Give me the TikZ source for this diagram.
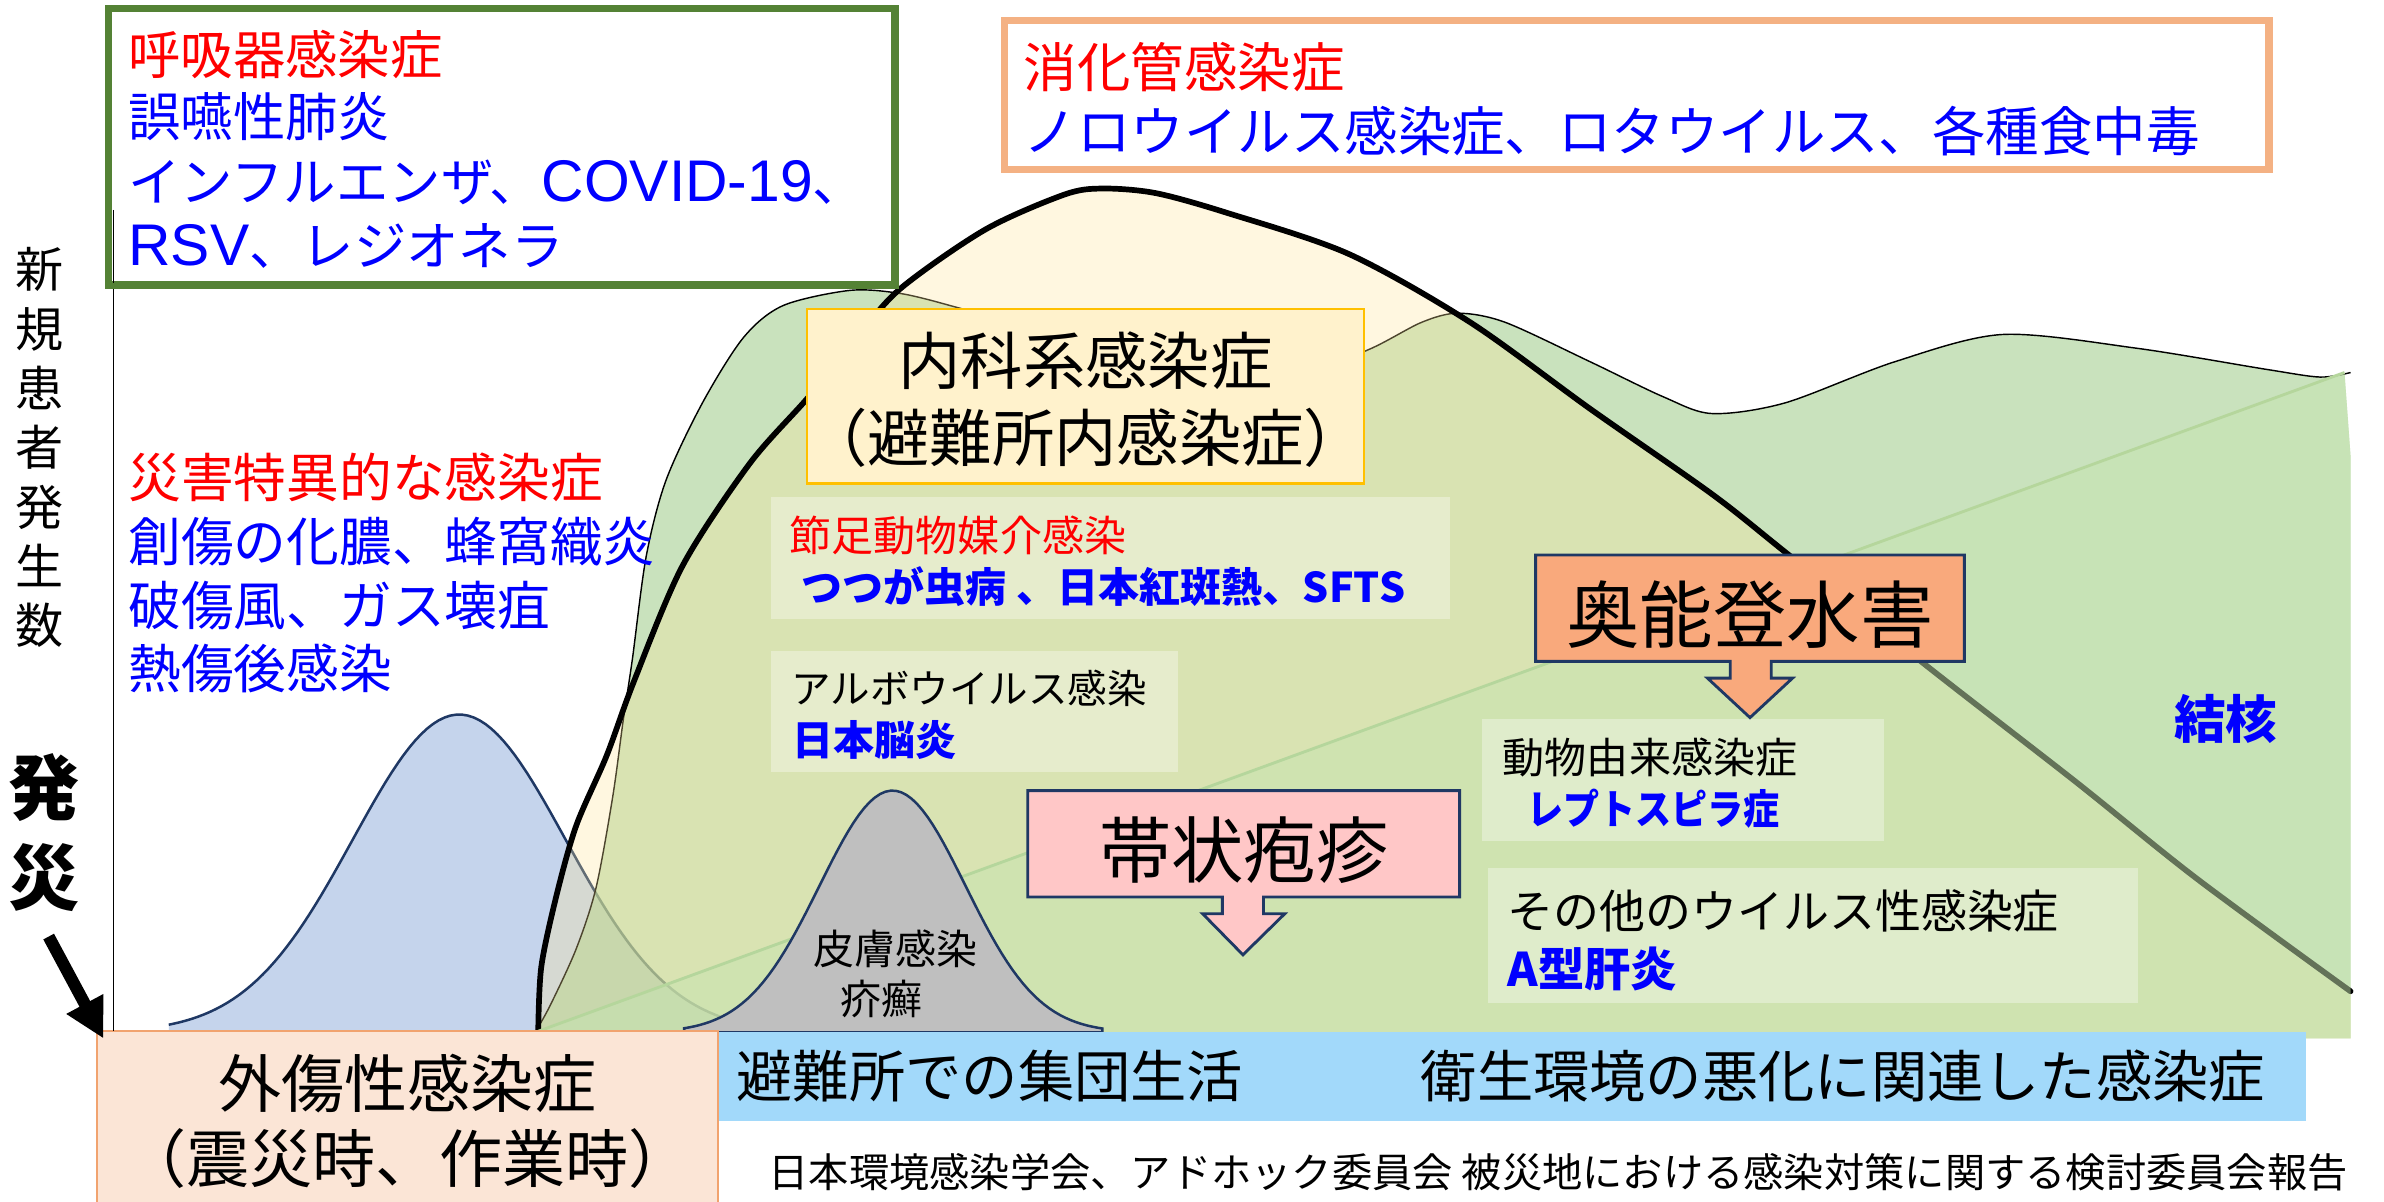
\documentclass[tikz,border=0pt]{standalone}
\usepackage{fontspec}
\usepackage{graphicx}
\setmainfont{Noto Sans CJK JP}
\newfontfamily\latfont{Liberation Sans}
\usetikzlibrary{arrows.meta}
\definecolor{jred}{HTML}{FF0000}
\definecolor{jblue}{HTML}{0000FF}
\definecolor{boxgreen}{HTML}{548235}
\definecolor{boxorange}{HTML}{F4B183}
\definecolor{bellblue}{HTML}{C5D4EC}
\definecolor{navy}{HTML}{1F3864}
\definecolor{gfill}{HTML}{A5CF91}
\definecolor{yfill}{HTML}{FFE699}
\definecolor{trifill}{HTML}{C6E4B0}
\definecolor{diagline}{HTML}{B5D69C}
\definecolor{bellgray}{HTML}{BFBFBF}
\definecolor{bandblue}{HTML}{A2D9FA}
\definecolor{peach}{HTML}{FBE5D6}
\definecolor{peachedge}{HTML}{F1A36F}
\definecolor{naikafill}{HTML}{FFF2CC}
\definecolor{naikaedge}{HTML}{FFC000}
\definecolor{pinkfill}{HTML}{FFC7C7}
\definecolor{salmonfill}{HTML}{F9A97C}
\newcommand\lparen{\makebox[0.5em][r]{（}}
\newcommand\rparen{\makebox[0.5em][l]{）}}
\newcommand\latbig[1]{{\latfont\fontsize{16.5pt}{18pt}\selectfont #1}}
\tikzset{
  txt/.style={inner sep=0pt, anchor=west},
  ctxt/.style={inner sep=0pt, anchor=center},
  tbox/.style={fill=white, fill opacity=0.35},
  callout/.style={draw=navy, line width=0.8pt, line join=miter},
  bellline/.style={draw=navy, line width=0.7pt},
}
\begin{document}
\begin{tikzpicture}[x=0.015cm,y=-0.015cm]
\useasboundingbox (0,0) rectangle (1568,790);
\clip (0,0) rectangle (1568,790);
\fill[white] (0,0) rectangle (1568,790);

% blue bell (trauma)
\fill[bellblue] plot[domain=111:493,samples=100] (\x,{679-209*exp(-0.5*((\x-302)/70)*((\x-302)/70))}) -- (493,679) -- (111,679) -- cycle;
\draw[bellline] plot[domain=111:493,samples=100] (\x,{679-209*exp(-0.5*((\x-302)/70)*((\x-302)/70))});

% big green shape
\fill[gfill, fill opacity=0.6] plot[smooth] coordinates {(352,679) (362,661) (379,624) (392,584) (403,524) (410,473) (416,433) (425,366) (438,316) (462,265) (489,222) (515,201) (559,191) (592,193) (625,201) (660,212) (760,252) (850,248) (900,230) (935,212) (959,206) (990,212) (1046,238) (1094,261) (1126,272) (1174,265) (1246,238) (1317,220) (1405,229) (1491,243) (1526,248) (1542,245)} -- (1546,300) -- (1546,683) -- (352,683) -- cycle;
\draw[black, line width=0.4pt] plot[smooth] coordinates {(352,679) (362,661) (379,624) (392,584) (403,524) (410,473) (416,433) (425,366) (438,316) (462,265) (489,222) (515,201) (559,191) (592,193) (625,201) (660,212) (760,252) (850,248) (900,230) (935,212) (959,206) (990,212) (1046,238) (1094,261) (1126,272) (1174,265) (1246,238) (1317,220) (1405,229) (1491,243) (1526,248) (1546,245)};

% yellow shape
\fill[yfill, fill opacity=0.3] plot[smooth] coordinates {(354,679) (356,636) (366,589) (379,543) (399,497) (417,448) (449,372) (493,305) (531,262) (562,224) (592,190) (648,151) (700,128) (725,124) (760,127) (807,140) (887,167) (967,212) (1046,269) (1126,325) (1174,363) (1266,437) (1365,514) (1445,578) (1546,652)} -- (1546,683) -- (354,683) -- cycle;
\draw[black, line width=1.6pt, line cap=round] plot[smooth] coordinates {(354,679) (356,636) (366,589) (379,543) (399,497) (417,448) (449,372) (493,305) (531,262) (562,224) (592,190) (648,151) (700,128) (725,124) (760,127) (807,140) (887,167) (967,212) (1046,269) (1126,325) (1174,363) (1266,437) (1365,514) (1445,578) (1546,652)};

% triangle
\fill[trifill, fill opacity=0.5] (352,679) -- (1542,245) -- (1546,300) -- (1546,683) -- (352,683) -- cycle;
\draw[diagline, line width=0.8pt] (352,679) -- (1542,245);

% gray bell (skin)
\filldraw[fill=bellgray, bellline] plot[domain=450:725,samples=80] (\x,{679-159*exp(-0.5*((\x-587)/48)*((\x-587)/48))}) -- (725,679) -- (450,679) -- cycle;
\node[ctxt, font=\fontsize{11.5pt}{14pt}\selectfont] (hifu) at (589,624) {皮膚感染};
\node[ctxt, font=\fontsize{11.5pt}{14pt}\selectfont] (kaisen) at (580,657) {疥癬};

% bottom band
\fill[bandblue] (471,679) rectangle (1517,737);
\node[txt, font=\fontsize{15.8pt}{19pt}\selectfont] (hinan) at (484,708) {避難所での集団生活};
\node[txt, font=\fontsize{15.8pt}{19pt}\selectfont] (eisei) at (934,708) {衛生環境の悪化に関連した感染症};

% trauma box
\filldraw[fill=peach, draw=peachedge, line width=0.6pt] (64,678) rectangle (472,800);
\node[ctxt, font=\fontsize{17.7pt}{21pt}\selectfont] (gaisho) at (268,713) {外傷性感染症};
\node[ctxt, font=\fontsize{17.7pt}{21pt}\selectfont] (gaisho2) at (268,762) {\lparen 震災時、作業時\rparen};

% citation
\node[txt, font=\fontsize{11.3pt}{13pt}\selectfont] (cite) at (505,771) {日本環境感染学会、アドホック委員会 被災地における感染対策に関する検討委員会報告};

% axis
\draw[line width=0.5pt] (74.6,138) -- (74.6,678);
\node[ctxt, align=center, font=\fontsize{13.5pt}{16.65pt}\selectfont] (ylabel) at (26,294.5) {新\\規\\患\\者\\発\\生\\数};
\node[ctxt, align=center, font=\bfseries\fontsize{20pt}{25.2pt}\selectfont] (hassai) at (29,547.5) {発\\災};
\coordinate (arrstart) at (32,616);
\coordinate (arrtip) at (68,683);
\draw[line width=3.4pt, -{Triangle[length=11pt,width=11pt]}] (arrstart) -- (arrtip);

% left text
\node[txt, text=jred, font=\fontsize{14.8pt}{18pt}\selectfont] (saigai) at (84,314) {災害特異的な感染症};
\node[txt, text=jblue, font=\fontsize{14.8pt}{18pt}\selectfont] (soshou) at (84,356) {創傷の化膿、蜂窩織炎};
\node[txt, text=jblue, font=\fontsize{14.8pt}{18pt}\selectfont] (hashou) at (84,398) {破傷風、ガス壊疽};
\node[txt, text=jblue, font=\fontsize{14.8pt}{18pt}\selectfont] (nesshou) at (84,440) {熱傷後感染};

% respiratory box
\filldraw[fill=white, draw=boxgreen, line width=2.1pt] (71.5,5.5) rectangle (588.5,187.5);
\draw[line width=0.5pt] (74.6,138) -- (74.6,186);
\node[txt, text=jred, font=\fontsize{14.7pt}{18pt}\selectfont] (kokyu) at (84,36) {呼吸器感染症};
\node[txt, text=jblue, font=\fontsize{14.7pt}{18pt}\selectfont] (goen) at (84,77) {誤嚥性肺炎};
\node[txt, text=jblue, font=\fontsize{14.7pt}{18pt}\selectfont] (flu) at (84,120) {インフルエンザ、\latbig{COVID-19}、};
\node[txt, text=jblue, font=\fontsize{14.7pt}{18pt}\selectfont] (rsv) at (84,162) {\latbig{RSV}、レジオネラ};

% digestive box
\filldraw[fill=white, draw=boxorange, line width=2.1pt] (660.5,13.5) rectangle (1492.5,111.5);
\node[txt, text=jred, font=\fontsize{15pt}{18pt}\selectfont] (shoka) at (673,44) {消化管感染症};
\node[txt, text=jblue, font=\fontsize{15pt}{18pt}\selectfont] (noro) at (673,86) {ノロウイルス感染症、ロタウイルス、各種食中毒};

% internal medicine box
\filldraw[fill=naikafill, draw=naikaedge, line width=0.6pt] (531,203) rectangle (897,318);
\node[ctxt, font=\fontsize{17.5pt}{21pt}\selectfont] (naika) at (714,237) {内科系感染症};
\node[ctxt, font=\fontsize{17.5pt}{21pt}\selectfont] (naika2) at (714,288) {\lparen 避難所内感染症\rparen};

% text boxes
\fill[tbox] (507,327) rectangle (954,407);
\node[txt, text=jred, font=\fontsize{11.8pt}{14pt}\selectfont] (sessoku) at (519,352) {節足動物媒介感染};
\node[txt, text=jblue, font=\bfseries\fontsize{11.5pt}{14pt}\selectfont] (tsutsuga) at (527,386) {つつが虫病 、日本紅斑熱、SFTS};

\fill[tbox] (507,428) rectangle (775,508);
\node[txt, font=\fontsize{11.1pt}{14pt}\selectfont] (arbo) at (520,453) {アルボウイルス感染};
\node[txt, text=jblue, font=\bfseries\fontsize{11.5pt}{14pt}\selectfont] (jenc) at (521,487) {日本脳炎};

\fill[tbox] (975,473) rectangle (1239,553);
\node[txt, font=\fontsize{11.8pt}{14pt}\selectfont] (doubutsu) at (988,498) {動物由来感染症};
\node[txt, text=jblue, font=\bfseries\fontsize{11.5pt}{14pt}\selectfont] (lepto) at (1004,532) {\scalebox{0.88}[1]{レプトスピラ症}};

\fill[tbox] (979,571) rectangle (1406,660);
\node[txt, font=\fontsize{12.9pt}{15pt}\selectfont] (sonota) at (991,599) {その他のウイルス性感染症};
\node[txt, text=jblue, font=\bfseries\fontsize{13pt}{15pt}\selectfont] (hepa) at (991,637) {A型肝炎};

\node[ctxt, text=jblue, font=\bfseries\fontsize{14.5pt}{17pt}\selectfont] (kekkaku) at (1464,473) {結核};

% callouts
\filldraw[fill=pinkfill, callout] (676,520) -- (960,520) -- (960,590) -- (831,590) -- (831,601) -- (845,601) -- (817.5,628) -- (791,601) -- (804,601) -- (804,590) -- (676,590) -- cycle;
\node[ctxt, font=\fontsize{20.3pt}{24pt}\selectfont] (taijo) at (818,559) {帯状疱疹};

\filldraw[fill=salmonfill, callout] (1010,365) -- (1292,365) -- (1292,435) -- (1165,435) -- (1165,446) -- (1179,446) -- (1151,472) -- (1123,446) -- (1138,446) -- (1138,435) -- (1010,435) -- cycle;
\node[ctxt, font=\fontsize{20.6pt}{24pt}\selectfont] (okunoto) at (1151,404) {奥能登水害};
\end{tikzpicture}
\end{document}
